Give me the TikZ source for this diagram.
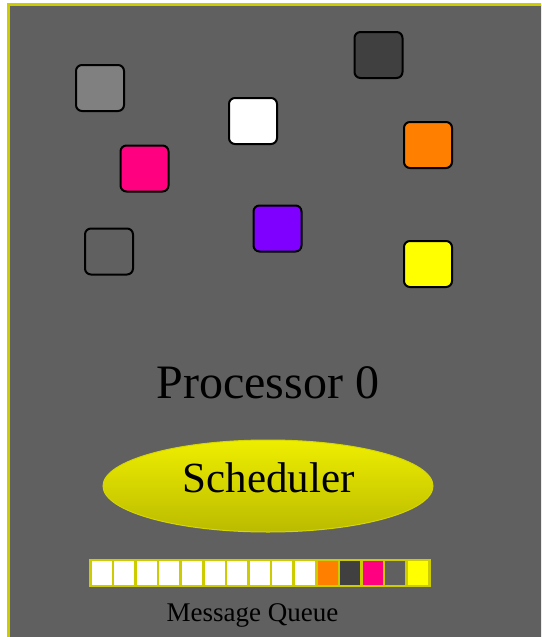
\documentclass[tikz,border=0pt]{standalone}
\usepackage{fontspec}
\setmainfont{Liberation Serif}
\usetikzlibrary{shapes.geometric}
\definecolor{bggray}{HTML}{606060}
\definecolor{frameyel}{HTML}{CCCC00}
\definecolor{midgray}{HTML}{808080}
\definecolor{darkg}{HTML}{404040}
\definecolor{pinkc}{HTML}{FF0080}
\definecolor{purplec}{HTML}{8000FF}
\definecolor{orangec}{HTML}{FF8000}
\definecolor{yellowc}{HTML}{FFFF00}
\definecolor{elltop}{HTML}{EEEE00}
\definecolor{ellbot}{HTML}{BBBB00}
\tikzset{
  msgbox/.style={draw=black, line width=2pt, rounded corners=6pt, minimum width=48pt, minimum height=46pt, inner sep=0pt},
  qcell/.style={draw=frameyel, line width=2.5pt, minimum width=22.73pt, minimum height=26pt, inner sep=0pt, anchor=west},
}
\begin{document}
\begin{tikzpicture}[x=1pt,y=-1pt]
\useasboundingbox (0,0) rectangle (541,637);
\clip (0,0) rectangle (541,637);
\fill[white] (0,0) rectangle (541,637);
\draw[frameyel, line width=3.5pt, fill=bggray] (8.5,4.5) rectangle (560,660);

\node[msgbox, fill=midgray] (m1) at (100,88) {};
\node[msgbox, fill=pinkc] (m2) at (144.5,168.5) {};
\node[msgbox, fill=bggray] (m3) at (109,251.5) {};
\node[msgbox, fill=white] (m4) at (253,121) {};
\node[msgbox, fill=purplec] (m5) at (277.5,228.5) {};
\node[msgbox, fill=darkg] (m6) at (378.5,55) {};
\node[msgbox, fill=orangec] (m7) at (428,145) {};
\node[msgbox, fill=yellowc] (m8) at (428,264) {};

\node[anchor=base, inner sep=0pt, font=\fontsize{48}{50}\selectfont] (proc) at (268,398) {Processor 0};

\node[ellipse, draw=frameyel!80!yellow, line width=1pt, top color=elltop, bottom color=ellbot, minimum width=330pt, minimum height=92pt, inner sep=0pt] (sched) at (268,486) {};
\node[anchor=base, inner sep=0pt, font=\fontsize{43}{46}\selectfont] (schedtext) at (268.5,492) {Scheduler};

\foreach \i/\c in {0/white,1/white,2/white,3/white,4/white,5/white,6/white,7/white,8/white,9/white,10/orangec,11/darkg,12/pinkc,13/bggray,14/yellowc}{
  \node[qcell, fill=\c] (q\i) at ({88+1+\i*22.6},573) {};
}
\node[anchor=base, inner sep=0pt, font=\fontsize{27}{29}\selectfont] (mq) at (252.5,621) {Message Queue};
\end{tikzpicture}
\end{document}
